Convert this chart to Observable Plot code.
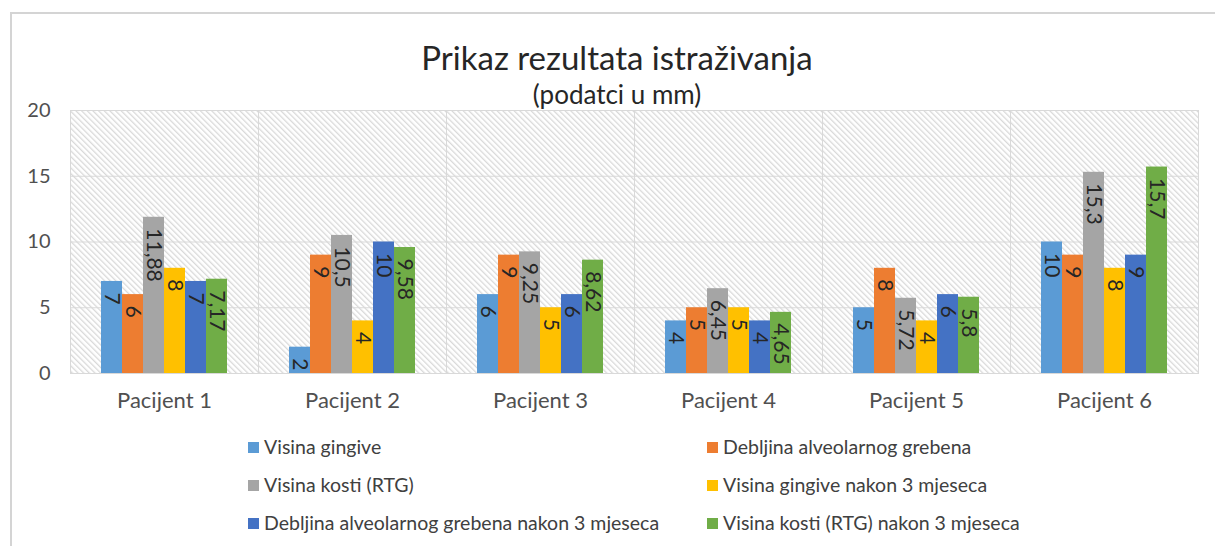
<!DOCTYPE html>
<html>
<head>
<meta charset="utf-8">
<script src="https://cdn.jsdelivr.net/npm/d3@7"></script>
<script src="https://cdn.jsdelivr.net/npm/@observablehq/plot@0.6"></script>
<style>
  html, body { margin: 0; padding: 0; background: #fff; }
  body { width: 1215px; height: 546px; position: relative; overflow: hidden; font-family: Lato, "Open Sans", sans-serif; }
  #frame { position: absolute; left: 10px; top: 12px; width: 1210px; height: 560px; border: 2px solid #d4d4d4; box-sizing: border-box; }
  #title { position: absolute; left: 217px; width: 800px; top: 37px; text-align: center; font-size: 33px; color: #262626; line-height: 40px; }
  #subtitle { position: absolute; left: 317px; width: 600px; top: 79px; text-align: center; font-size: 26px; color: #262626; line-height: 30px; }
  #chart { position: absolute; left: 0; top: 100px; }
  .leg { position: absolute; font-size: 19.5px; color: #404040; line-height: 24px; white-space: nowrap; }
  .leg span.sw { display: inline-block; width: 11px; height: 11px; margin-right: 5px; vertical-align: 1px; }
</style>
</head>
<body>
<div id="frame"></div>
<div id="title">Prikaz rezultata istraživanja</div>
<div id="subtitle">(podatci u mm)</div>
<div id="chart"></div>
<div id="legend"></div>
<script>
const patients = ["Pacijent 1", "Pacijent 2", "Pacijent 3", "Pacijent 4", "Pacijent 5", "Pacijent 6"];
const seriesNames = [
  "Visina gingive",
  "Debljina alveolarnog grebena",
  "Visina kosti (RTG)",
  "Visina gingive nakon 3 mjeseca",
  "Debljina alveolarnog grebena nakon 3 mjeseca",
  "Visina kosti (RTG) nakon 3 mjeseca"
];
const seriesColors = ["#5B9BD5", "#ED7D31", "#A5A5A5", "#FFC000", "#4472C4", "#70AD47"];
const visinaGingive = [7, 2, 6, 4, 5, 10];
const debljinaGrebena = [6, 9, 9, 5, 8, 9];
const visinaKosti = [11.88, 10.5, 9.25, 6.45, 5.72, 15.3];
const visinaGingive3 = [8, 4, 5, 5, 4, 8];
const debljinaGrebena3 = [7, 10, 6, 4, 6, 9];
const visinaKosti3 = [7.17, 9.58, 8.62, 4.65, 5.8, 15.7];
const yTicks = [0, 5, 10, 15, 20];

const seriesValues = [visinaGingive, debljinaGrebena, visinaKosti, visinaGingive3, debljinaGrebena3, visinaKosti3];
const data = [];
patients.forEach((p, i) => {
  seriesNames.forEach((s, j) => {
    data.push({patient: p, series: s, value: seriesValues[j][i]});
  });
});
const fmt = v => String(v).replace(".", ",");

const plot = Plot.plot({
  width: 1215,
  height: 313,
  marginTop: 10,
  marginBottom: 40,
  marginLeft: 68,
  marginRight: 16,
  style: {fontFamily: "Lato, 'Open Sans', sans-serif", fontSize: "20px", color: "#505050", background: "transparent", overflow: "visible"},
  fx: {domain: patients, padding: 0, label: null, axis: "bottom", tickSize: 0, tickPadding: 19},
  x: {domain: seriesNames, paddingInner: 0, paddingOuter: 1.28, axis: null},
  y: {domain: [0, 20], ticks: yTicks, tickSize: 0, tickPadding: 20, label: null},
  color: {domain: seriesNames, range: seriesColors},
  marks: [
    Plot.frame({fill: "url(#hatch)", stroke: null}),
    Plot.gridY(yTicks.slice(1), {stroke: "#d9d9d9", strokeOpacity: 1}),
    Plot.frame({stroke: "#d9d9d9", strokeOpacity: 1}),
    Plot.barY(data, {fx: "patient", x: "series", y: "value", fill: "series"}),
    Plot.text(data, {fx: "patient", x: "series", y: "value", text: d => fmt(d.value), rotate: 90, textAnchor: "start", lineAnchor: "middle", fill: "#262626", fontSize: 21})
  ]
});

const svgEl = plot.tagName.toLowerCase() === "svg" ? plot : plot.querySelector("svg");
d3.select(svgEl).selectAll('[aria-label="fx-axis tick label"]').attr("font-size", 22).style("font-size", "22px");
// shift value labels down inside bars (screen space)
d3.select(svgEl).selectAll('g[aria-label="text"]').each(function() {
  const t = this.getAttribute("transform") || "";
  this.setAttribute("transform", (t + " translate(0,11)").trim());
});
const defs = d3.select(svgEl).insert("defs", ":first-child");
const pat = defs.append("pattern")
  .attr("id", "hatch")
  .attr("patternUnits", "userSpaceOnUse")
  .attr("width", 4).attr("height", 4)
  .attr("patternTransform", "rotate(-45)");
pat.append("rect").attr("width", 4).attr("height", 4).attr("fill", "#ffffff");
pat.append("rect").attr("width", 1.3).attr("height", 4).attr("fill", "#d9d9d9");
document.getElementById("chart").appendChild(plot);

const legend = document.getElementById("legend");
const legPos = [[248, 447], [707, 447], [248, 485], [707, 485], [248, 523], [707, 523]];
seriesNames.forEach((s, i) => {
  const d = document.createElement("div");
  d.className = "leg";
  d.style.left = legPos[i][0] + "px";
  d.style.top = (legPos[i][1] - 12) + "px";
  d.innerHTML = `<span class="sw" style="background:${seriesColors[i]}"></span>${s}`;
  legend.appendChild(d);
});
</script>
</body>
</html>
